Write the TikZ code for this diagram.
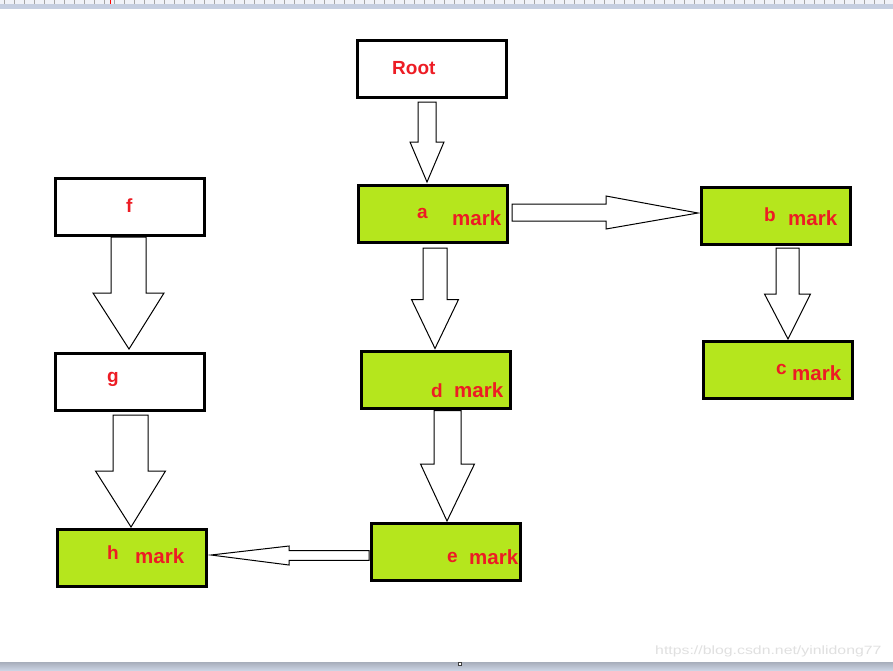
\documentclass[tikz,border=0pt]{standalone}
\usepackage{fontspec}
\setmainfont{Liberation Sans}
\usetikzlibrary{calc}
\definecolor{mgreen}{RGB}{181, 230, 29}
\definecolor{mred}{RGB}{237, 28, 36}
\definecolor{mbar}{RGB}{197, 206, 224}
\definecolor{mruler}{RGB}{240, 242, 248}
\tikzset{box/.style = {draw, line width = 3, minimum width = 149, minimum height = 57, inner sep = 0}}
\tikzset{gbox/.style = {box, fill = mgreen}}
\tikzset{lbl/.style = {text = mred, font = \bfseries\fontsize{19}{19}\selectfont, anchor = base west, inner sep = 0}}
\tikzset{mk/.style = {lbl, font = \bfseries\fontsize{20.5}{20}\selectfont}}
\tikzset{blk/.style = {draw, fill = white, line width = 1}}
\tikzset{wmark/.style = {text = black!12, font = \fontsize{12}{12}\selectfont, anchor = base west, inner sep = 0}}
% hollow block arrows: start, tip, half shaft, half head, head length
\newcommand{\blkdown}[5]{\draw [blk] let \p1 = (#1), \p2 = (#2) in
  (\x1-#3, \y1) -- (\x1+#3, \y1) -- (\x1+#3, \y2+#5) -- (\x1+#4, \y2+#5) -- (\p2)
  -- (\x1-#4, \y2+#5) -- (\x1-#3, \y2+#5) -- cycle;}
\newcommand{\blkside}[5]{\draw [blk] let \p1 = (#1), \p2 = (#2) in
  (\x1, \y1+#3) -- (\x2+#5, \y1+#3) -- (\x2+#5, \y1+#4) -- (\p2)
  -- (\x2+#5, \y1-#4) -- (\x2+#5, \y1-#3) -- (\x1, \y1-#3) -- cycle;}

\begin{document}
\begin{tikzpicture}[x=1pt, y=-1pt]
      \useasboundingbox (0, 0) rectangle (893, 670);
      \fill [white] (0, 0) rectangle (893, 670);
      % window frame
      \fill [mruler] (0, 0) rectangle (893, 4);
      \foreach \t in {0,...,88}
        \draw [black!35, line width = 0.8] (4.3+10*\t, 0) -- (4.3+10*\t, 4);
      \draw [red, line width = 1.2] (110.3, 0) -- (110.3, 4);
      \fill [mbar] (0, 4) rectangle (893, 9);
      \shade [top color = mbar!80!black!90, bottom color = mbar!90!white] (0, 662) rectangle (893, 670);
      \draw [black!75, fill = white, line width = 1] (458.5, 662.5) rectangle (461.5, 665.5);

      % boxes
      \node [box] (root) at (432, 69) {};
      \node [gbox] (a) at (433, 214) {};
      \node [gbox] (b) at (776, 216) {};
      \node [gbox] (c) at (778, 370) {};
      \node [gbox] (d) at (436, 379.5) {};
      \node [gbox] (e) at (446, 552) {};
      \node [box] (f) at (130, 207) {};
      \node [box] (g) at (130, 382) {};
      \node [gbox] (h) at (132, 558) {};

      % arrow ends
      \coordinate (ra1) at ([shift={(-5, 3)}]root.south);
      \coordinate (ra2) at ([shift={(-6, -2)}]a.north);
      \coordinate (ad1) at ([shift={(2, 4)}]a.south);
      \coordinate (ad2) at ([shift={(-1, -1)}]d.north);
      \coordinate (de1) at ([shift={(11.5, 1)}]d.south);
      \coordinate (de2) at ([shift={(1, -1)}]e.north);
      \coordinate (bc1) at ([shift={(11.5, 2)}]b.south);
      \coordinate (bc2) at ([shift={(10, -1)}]c.north);
      \coordinate (fg1) at ([shift={(-1.5, 0)}]f.south);
      \coordinate (fg2) at ([shift={(-1, -3)}]g.north);
      \coordinate (gh1) at ([shift={(0.5, 3)}]g.south);
      \coordinate (gh2) at ([shift={(-1, -1)}]h.north);
      \coordinate (ab1) at ([shift={(3, -1.5)}]a.east);
      \coordinate (ab2) at ([shift={(-2, -3)}]b.west);
      \coordinate (eh1) at ([shift={(-1, 3.5)}]e.west);
      \coordinate (eh2) at ([shift={(3, -3)}]h.east);

      \blkdown{ra1}{ra2}{9pt}{17pt}{40pt}
      \blkdown{ad1}{ad2}{12pt}{23.5pt}{49pt}
      \blkdown{de1}{de2}{13.5pt}{27pt}{57pt}
      \blkdown{bc1}{bc2}{11.5pt}{23pt}{45pt}
      \blkdown{fg1}{fg2}{17.5pt}{35.5pt}{56pt}
      \blkdown{gh1}{gh2}{17.5pt}{35pt}{56pt}
      \blkside{ab1}{ab2}{8.5pt}{16.5pt}{-92pt}
      \blkside{eh1}{eh2}{4.8pt}{9.5pt}{78pt}

      % labels
      \node [lbl] (lroot) at (392, 74) {Root};
      \node [lbl] (la) at (417, 218) {a};
      \node [mk] (ma) at (452, 225) {mark};
      \node [lbl] (lb) at (764, 221) {b};
      \node [mk] (mb) at (788, 225) {mark};
      \node [lbl] (lc) at (776, 374) {c};
      \node [mk] (mc) at (792, 380) {mark};
      \node [lbl] (ld) at (431, 397) {d};
      \node [mk] (md) at (454, 397) {mark};
      \node [lbl] (le) at (447, 562) {e};
      \node [mk] (me) at (469, 564) {mark};
      \node [lbl] (lf) at (126, 212) {f};
      \node [lbl] (lg) at (107, 382) {g};
      \node [lbl] (lh) at (107, 559) {h};
      \node [mk] (mh) at (135, 563) {mark};

      \node [wmark] (wm) at (655, 654) {\scalebox{1.32}[1]{https://blog.csdn.net/yinlidong77}};
    \end{tikzpicture}
\end{document}
